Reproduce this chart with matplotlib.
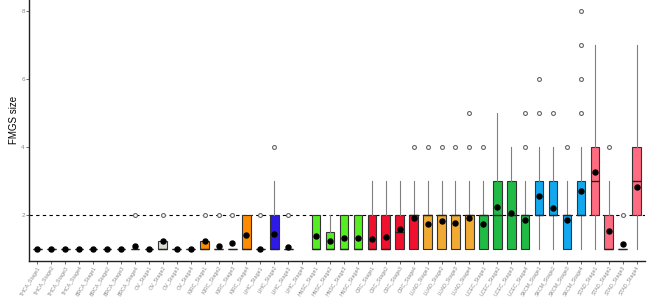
import numpy as np
import matplotlib
matplotlib.use("Agg")
import matplotlib.pyplot as plt

plt.rcParams['font.family'] = ['Liberation Sans', 'DejaVu Sans']

#### categories
cancers = ["THCA", "BRCA", "OV", "KIRC", "LIHC", "HNSC", "CRC", "LUAD", "UCEC", "SKCM", "STAD"]
stages = ["Stage1", "Stage2", "Stage3", "Stage4"]
labels = [c + "_" + s for c in cancers for s in stages]

cancer_colors = ["#D0D0D0", "#D0D0D0", "#DCDCD4", "#FF8C00", "#2D1AE6", "#55EE22",
                 "#F0112F", "#F2AA33", "#20BB45", "#11A8F0", "#FF6B80"]

#### box statistics (None = no data)
q1 = [1, 1, 1, 1,  1, 1, 1, 1,  1, 1, 1, 1,  1, 1, 1, 1,  1, 1, 1, None,
      1, 1, 1, 1,  1, 1, 1, 1,  1, 1, 1, 1,  1, 1, 1, 1,  2, 2, 1, 2,  2, 1, 1, 2]
med = [1, 1, 1, 1,  1, 1, 1, 1,  1, 1, 1, 1,  1, 1, 1, 1,  1, 1, 1, None,
       1, 1, 1, 1,  1, 1, 1.5, 2,  2, 2, 2, 2,  2, 2, 2, 2,  2, 2, 2, 2,  3, 1, 1, 3]
q3 = [1, 1, 1, 1,  1, 1, 1, 1,  1, 1.25, 1, 1,  1.25, 1, 1, 2,  1, 2, 1, None,
      2, 1.5, 2, 2,  2, 2, 2, 2,  2, 2, 2, 2,  2, 3, 3, 2,  3, 3, 2, 3,  4, 2, 1, 4]
whislo = [1, 1, 1, 1,  1, 1, 1, 1,  1, 1, 1, 1,  1, 1, 1, 1,  1, 1, 1, None,
          1, 1, 1, 1,  1, 1, 1, 1,  1, 1, 1, 1,  1, 1, 1, 1,  1, 1, 1, 1,  1, 1, 1, 1]
whishi = [1, 1, 1, 1,  1, 1, 1, 1,  1, 1.25, 1, 1,  1.25, 1, 1, 2,  1, 3, 1, None,
          2, 2, 2, 2,  3, 3, 3, 3,  3, 3, 3, 3,  3, 5, 4, 3,  4, 4, 3, 4,  7, 3, 1, 7]
means = [1, 1, 1, 1,  1, 1, 1, 1.1,  1, 1.24, 1, 1,  1.25, 1.09, 1.19, 1.41,  1.0, 1.43, 1.05, None,
         1.39, 1.24, 1.34, 1.34,  1.31, 1.35, 1.6, 1.93,  1.74, 1.83, 1.76, 1.92,
         1.74, 2.24, 2.05, 1.85,  2.57, 2.2, 1.87, 2.71,  3.26, 1.53, 1.15, 2.83]
fliers = [[], [], [], [],  [], [], [], [2],  [], [2], [], [],  [2], [2], [2], [],
          [2], [4], [2], [],  [], [], [], [],  [], [], [], [4],
          [4], [4], [4], [4, 5],  [4], [], [], [4, 5],  [5, 6], [5], [4], [5, 6, 7, 8],
          [], [4], [2], []]

#### build stats for bxp
stats = []
pos = []
cols = []
for i in range(len(labels)):
    if med[i] is None:
        continue
    stats.append(dict(med=med[i], q1=q1[i], q3=q3[i], whislo=whislo[i], whishi=whishi[i],
                      mean=means[i], fliers=fliers[i], label=labels[i]))
    pos.append(i + 1)
    cols.append(cancer_colors[i // 4])

fig = plt.figure(figsize=(6.5, 2.99), dpi=100)
ax = fig.add_axes([29 / 650, 38 / 299, 616 / 650, 261 / 299])

ax.axhline(2, color="black", linestyle=(0, (3, 3)), linewidth=0.8, zorder=1)

bp = ax.bxp(stats, positions=pos, widths=0.62, patch_artist=True, showmeans=True,
            showcaps=False,
            boxprops=dict(edgecolor="#333333", linewidth=0.8),
            whiskerprops=dict(color="#808080", linewidth=0.8),
            medianprops=dict(color="#222222", linewidth=1.0),
            meanprops=dict(marker="o", markerfacecolor="black", markeredgecolor="black", markersize=3.6),
            flierprops=dict(marker="o", markerfacecolor="white", markeredgecolor="#666666",
                            markersize=2.8, markeredgewidth=0.8))
for patch, c in zip(bp["boxes"], cols):
    patch.set_facecolor(c)
    patch.set_zorder(2)

ax.set_xlim(0.4, len(labels) + 0.6)
ax.set_ylim(0.65, 8.33)
ax.set_xticks(range(1, len(labels) + 1))
ax.set_xticklabels(labels, rotation=58, ha="right", rotation_mode="anchor",
                   fontsize=3.8, color="#8a8a8a")
ax.set_yticks([2, 4, 6, 8])
ax.set_yticklabels(["2", "4", "6", "8"], fontsize=4.5, color="#8a8a8a")
ax.tick_params(axis="both", length=2, width=0.6, color="#555555", pad=1.0)
ax.set_ylabel("FMGS size", fontsize=7)
ax.yaxis.set_label_coords(-0.016, 0.54)

for s in ["top", "right"]:
    ax.spines[s].set_visible(False)
for s in ["left", "bottom"]:
    ax.spines[s].set_linewidth(1.0)
    ax.spines[s].set_color("#222222")

fig.savefig("out.png", dpi=100)
